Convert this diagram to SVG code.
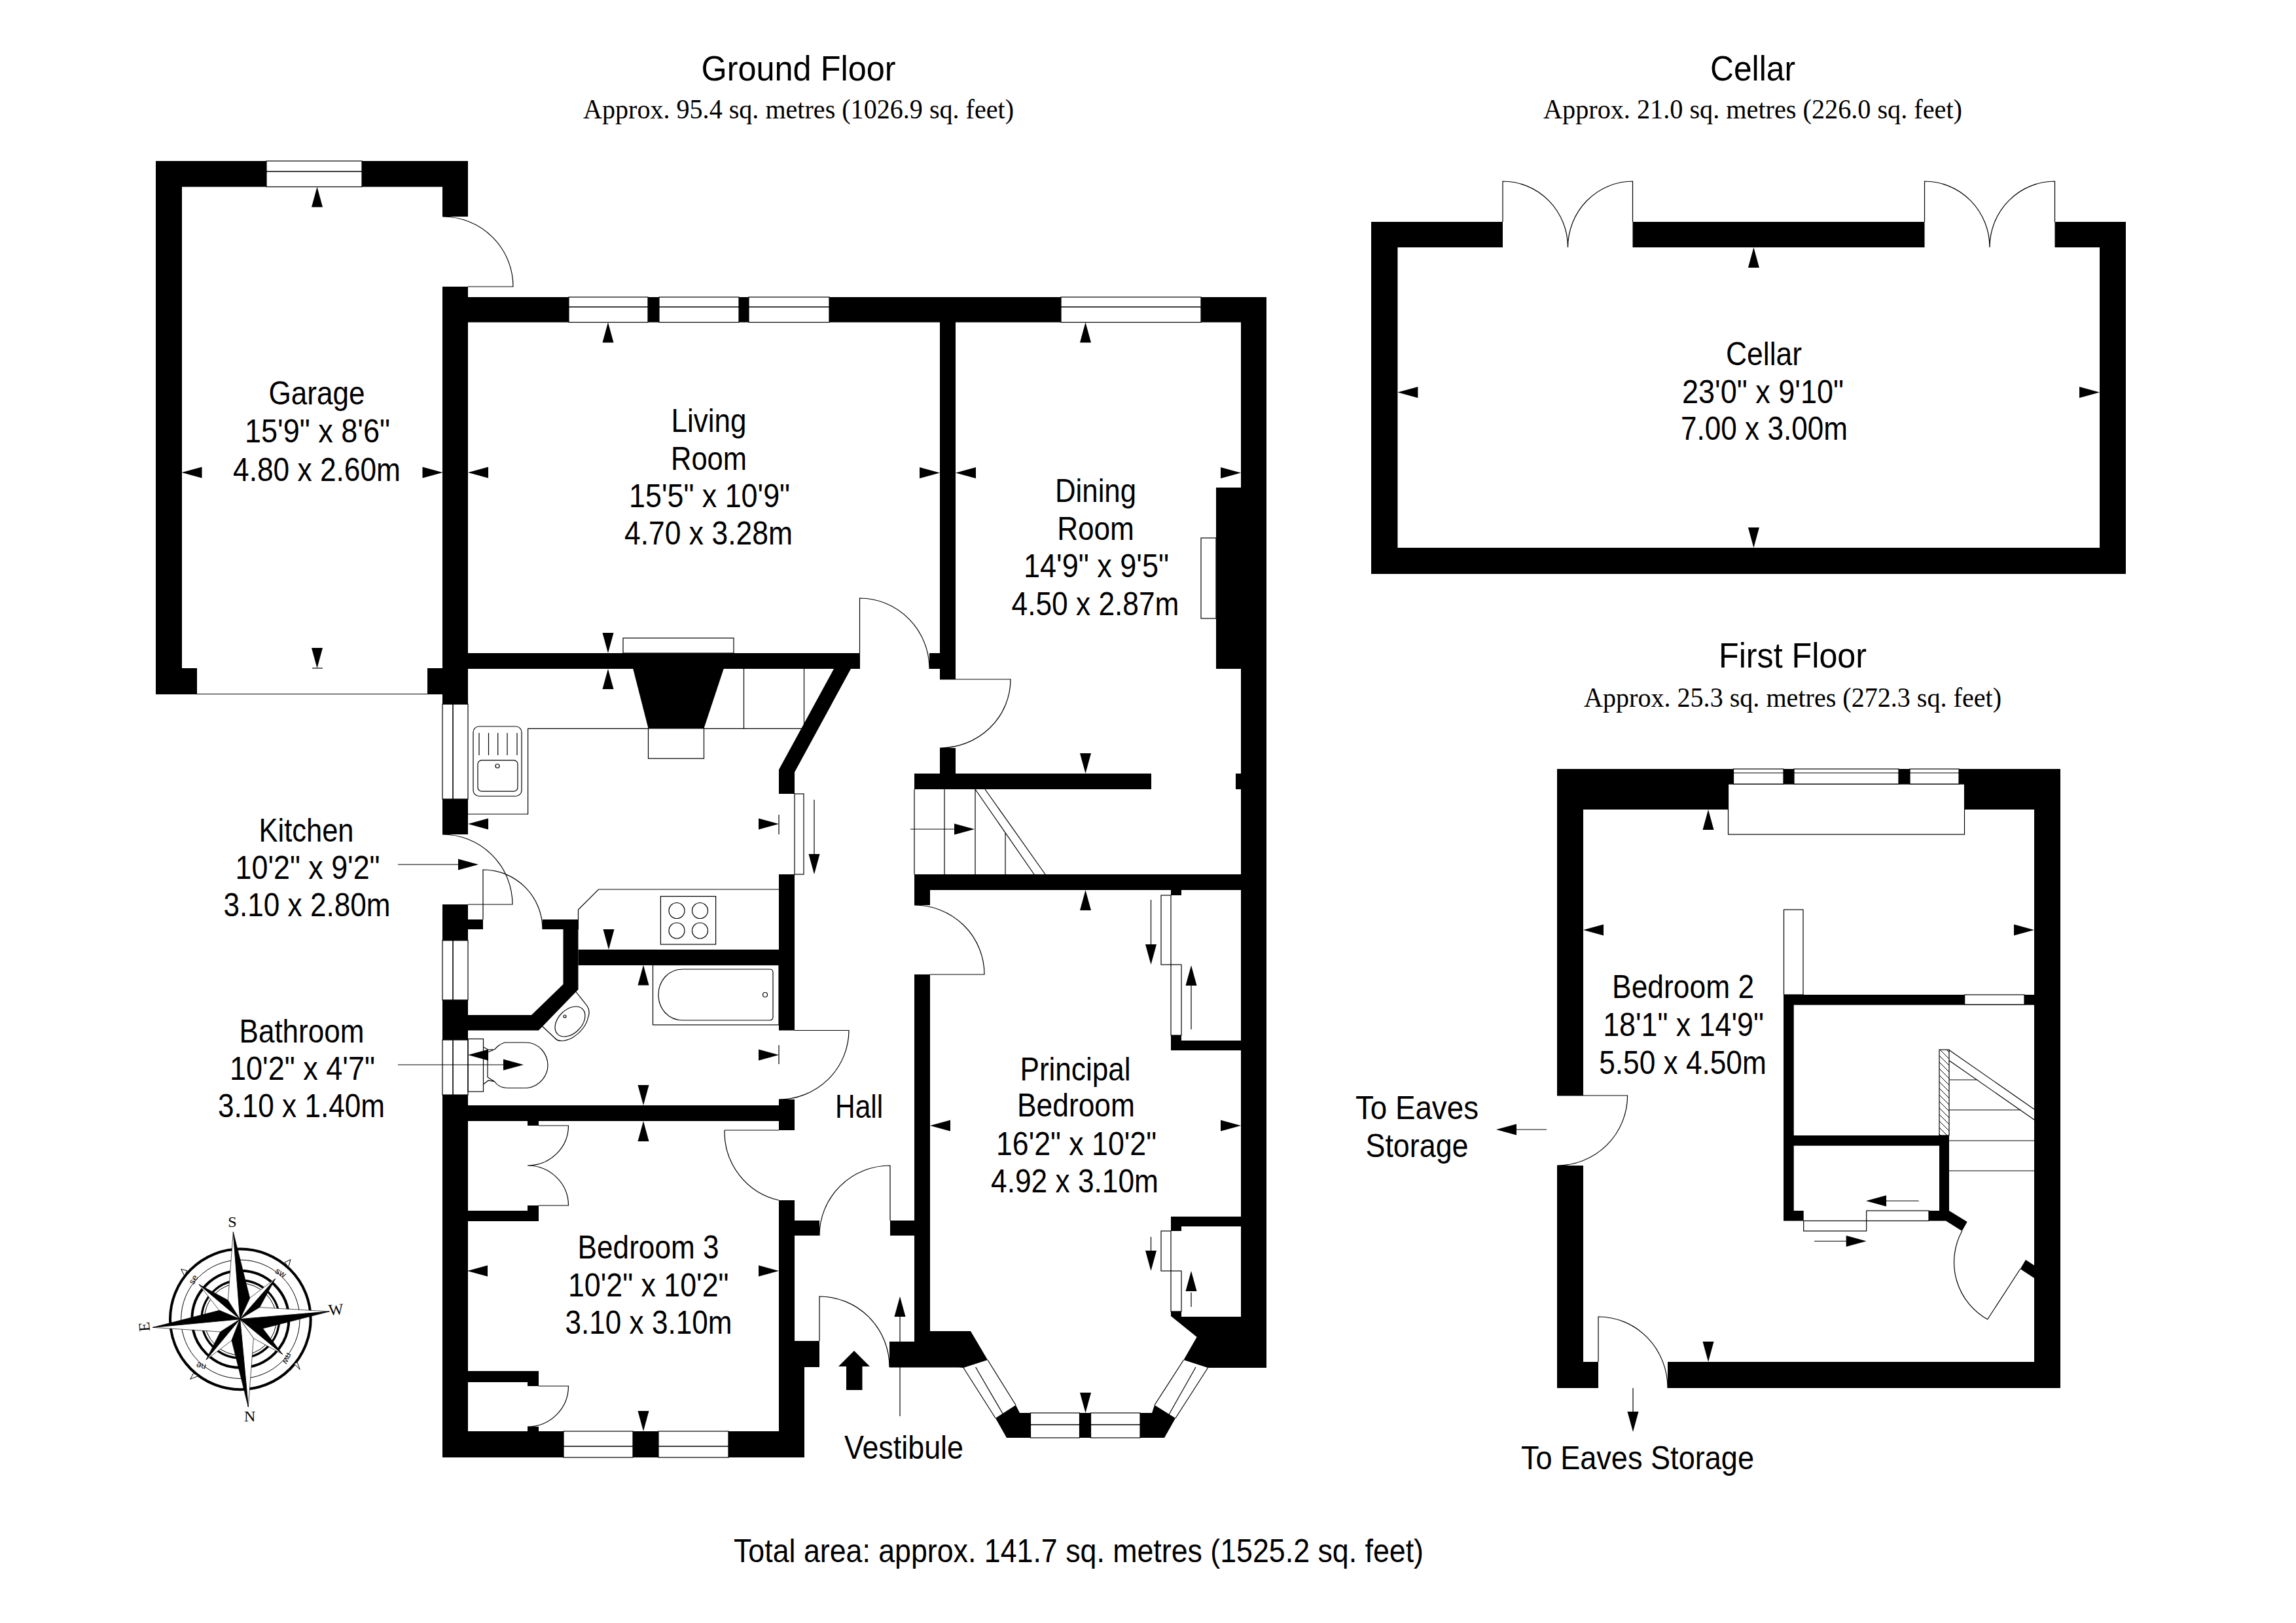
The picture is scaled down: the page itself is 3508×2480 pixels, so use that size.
<svg xmlns="http://www.w3.org/2000/svg" width="3508" height="2480" viewBox="0 0 3508 2480">
<style>
.t{font-family:"Liberation Sans",Arial,sans-serif;font-size:50px;fill:#000;text-anchor:middle}
.h{font-family:"Liberation Sans",Arial,sans-serif;font-size:54px;fill:#000;text-anchor:middle}
.s{font-family:"Liberation Serif","Times New Roman",serif;font-size:42px;fill:#000;text-anchor:middle}
.w{fill:#000;stroke:none}
.l{fill:none;stroke:#000;stroke-width:1.2}
.o{fill:#fff;stroke:#000;stroke-width:1.2}
.m{fill:none;stroke:#000;stroke-width:1.6}
</style>
<defs>
<path id="a" d="M0 0L-31 -8.5L-31 8.5Z" fill="#000"/>
<pattern id="hatch" width="10" height="10" patternUnits="userSpaceOnUse"><path d="M0 0L10 10M-5 5L5 15M5 -5L15 5" stroke="#000" stroke-width="1" fill="none"/></pattern>
</defs>
<rect width="3508" height="2480" fill="#fff"/>

<g id="ground-floor">
<g id="garage">
<rect class="w" x="238" y="246" width="169" height="39.5"/>
<rect class="w" x="553" y="246" width="162" height="39.5"/>
<rect class="w" x="676" y="285" width="39" height="46"/>
<rect class="w" x="238" y="285" width="40" height="776"/>
<rect class="w" x="277" y="1021" width="24" height="40"/>
<rect class="w" x="653" y="1021" width="24" height="40"/>
<rect class="w" x="676" y="438" width="39" height="638"/>
<rect class="o" x="407" y="246" width="146" height="39.5"/>
<path class="m" d="M407 262H553"/>
<path class="l" d="M301 1060.500H653"/>
<path class="l" d="M676.5 331A107.500 107 0 0 1 784 438H715"/>
</g>
<g id="main-walls">
<rect class="w" x="715" y="454" width="154" height="38.500"/>
<rect class="w" x="990" y="454" width="17" height="38.500"/>
<rect class="w" x="1129" y="454" width="15" height="38.500"/>
<rect class="w" x="1267" y="454" width="354" height="38.500"/>
<rect class="w" x="1835" y="454" width="100" height="38.500"/>
<rect class="w" x="1896" y="454" width="39" height="1636"/>
<rect class="o" x="869" y="454" width="121" height="38.500"/>
<rect class="o" x="1007" y="454" width="122" height="38.500"/>
<rect class="o" x="1144" y="454" width="123" height="38.500"/>
<rect class="o" x="1621" y="454" width="214" height="38.500"/>
<path class="m" d="M869 469H990M1007 469H1129M1144 469H1267M1621 469H1835"/>
<rect class="w" x="1436" y="492" width="24" height="546"/>
<rect class="w" x="1420" y="998" width="16" height="24"/>
<rect class="w" x="715" y="998" width="599" height="24"/>
<path class="w" d="M1274 1022H1300L1214 1180V1213H1190V1176Z"/>
<rect class="w" x="1436" y="1143" width="24" height="39"/>
<rect class="w" x="1397" y="1182" width="362" height="24"/>
<rect class="w" x="1888" y="1182" width="8" height="24"/>
<rect class="w" x="1397" y="1336" width="499" height="24"/>
<rect class="w" x="1397" y="1360" width="24" height="23"/>
<rect class="w" x="1397" y="1489" width="24" height="561"/>
<rect class="w" x="1858" y="745" width="38" height="277"/>
<rect class="o" x="1835" y="822" width="23" height="123"/>
<path class="l" d="M1313.500 998V914A107 108 0 0 1 1420 1022"/>
<path class="l" d="M1436 1038H1544A108 105 0 0 1 1436 1143"/>
<path class="l" d="M1421 1489H1504A107 106 0 0 0 1397 1383"/>
</g>
<g id="stairs">
<path class="l" d="M1397 1206V1336M1443 1206V1336M1490 1206V1336M1536 1272V1336M1490 1206L1580 1336M1505 1206L1597 1336"/>
</g>
<g id="kitchen">
<rect class="w" x="676" y="1221" width="39" height="54"/>
<rect class="w" x="676" y="1382" width="39" height="55"/>
<rect class="w" x="715" y="1405" width="23" height="15"/>
<rect class="w" x="829" y="1405" width="55" height="15"/>
<rect class="w" x="883.500" y="1451" width="306.500" height="24"/>
<rect class="w" x="1190" y="1336" width="24" height="238.500"/>
<rect class="o" x="676" y="1076" width="39" height="145"/>
<path class="m" d="M692 1076V1221"/>
<path class="l" d="M676 1275A107 107 0 0 1 783 1382H715"/>
<path class="l" d="M738 1405V1329A91 91 0 0 1 829 1420"/>
<rect class="l" x="1214" y="1213" width="14" height="123"/>
<path class="w" d="M967 1021H1106L1075.500 1113H990.500Z"/>
<rect class="l" x="990.500" y="1113" width="85" height="46"/>
<rect class="l" x="952" y="975" width="169" height="23"/>
<path class="l" d="M1136.500 1022V1113M1228.500 1022V1113M715 1244H806.600V1113.400H990.500M1075.500 1113.400H1226"/>
<rect class="l" x="723" y="1110" width="74" height="106.500" rx="9"/>
<rect class="l" x="730" y="1161.600" width="61" height="47.500" rx="6"/>
<circle class="l" cx="760" cy="1170.500" r="3"/>
<path class="l" d="M732 1120V1154M746.500 1120V1154M760.700 1120V1154M775 1120V1154M790 1120V1154"/>
<path class="l" d="M883.500 1405V1390L914.500 1359H1190"/>
<rect class="l" x="1009.400" y="1369.600" width="84.200" height="73.400"/>
<circle class="l" cx="1034" cy="1391.500" r="12"/>
<circle class="l" cx="1069.500" cy="1391.500" r="12"/>
<circle class="l" cx="1034" cy="1422" r="12"/>
<circle class="l" cx="1069.500" cy="1422" r="12"/>
</g>
<g id="bathroom">
<path class="w" d="M860.500 1420H883.500V1512L823 1574.500H715V1551H812L860.500 1504Z"/>
<rect class="w" x="676" y="1528" width="39" height="61"/>
<rect class="w" x="676" y="1673" width="39" height="554"/>
<rect class="w" x="715" y="1689" width="475" height="24"/>
<rect class="w" x="1190" y="1680" width="24" height="47"/>
<rect class="o" x="676" y="1437" width="39" height="91"/>
<path class="m" d="M692 1437V1528"/>
<rect class="o" x="676" y="1589" width="39" height="84"/>
<path class="m" d="M692 1589V1673"/>
<path class="l" d="M1214 1574.500H1297A107 106 0 0 1 1190 1680"/>
<rect class="l" x="997.500" y="1474.500" width="192.500" height="91.500"/>
<path class="l" d="M1043 1481H1176Q1181 1481 1181 1486V1554Q1181 1559 1176 1559H1043C1020 1559 1006 1540 1006 1520C1006 1500 1020 1481 1043 1481Z"/>
<circle class="l" cx="1169" cy="1520" r="3.500"/>
<path class="l" d="M878 1513L897 1537Q902 1545 899 1553Q895 1573 874 1586Q855 1595 847.500 1586L828.400 1568"/>
<ellipse class="l" cx="871" cy="1561" rx="27" ry="18" transform="rotate(-45 871 1561)"/>
<circle class="l" cx="863" cy="1553" r="2"/>
<rect class="l" x="715" y="1587.500" width="23.500" height="80.500"/>
<path class="l" d="M745 1608V1646L755.700 1652.700Q762 1662.500 777 1662.500H805C826 1660 837 1642 837 1628C837 1612 825 1593 803.500 1593H771Q762 1596 755.700 1603.600L745 1608M738.500 1600L746 1604L755.700 1603.600M738.500 1657L746 1651L755.700 1652.700"/>
</g>
<g id="bedroom3">
<rect class="w" x="1190" y="1834" width="24" height="255"/>
<rect class="w" x="1190" y="2089" width="39" height="138"/>
<rect class="w" x="1214" y="2049" width="38" height="40"/>
<rect class="w" x="1214" y="1865" width="38" height="23"/>
<rect class="w" x="715" y="2187" width="146" height="40"/>
<rect class="w" x="967" y="2187" width="39" height="40"/>
<rect class="w" x="1113" y="2187" width="116" height="40"/>
<rect class="o" x="861" y="2187" width="106" height="40"/>
<rect class="o" x="1006" y="2187" width="107" height="40"/>
<path class="m" d="M861 2210H967M1006 2210H1113"/>
<path class="l" d="M1107 1727H1190M1107 1727A107 107 0 0 0 1190 1834"/>
<rect class="w" x="806" y="1713" width="17" height="7"/>
<path class="l" d="M823 1720H868.500A62.500 61 0 0 1 806 1781A62.500 61 0 0 1 868.500 1842H823"/>
<rect class="w" x="806" y="1842" width="17" height="9"/>
<rect class="w" x="715" y="1850" width="108" height="16"/>
<rect class="w" x="715" y="2095" width="108" height="17"/>
<rect class="w" x="806" y="2111" width="17" height="7"/>
<path class="l" d="M823 2118H868.500A62.500 62 0 0 1 806 2180"/>
<rect class="w" x="806" y="2180" width="17" height="8"/>
</g>
<g id="vestibule">
<path class="l" d="M1252 2049V1981A107 108 0 0 1 1359 2089"/>
<path class="l" d="M1360 1865V1781A108 107 0 0 0 1252 1888"/>
<rect class="w" x="1360" y="1865" width="37" height="23"/>
<path class="w" d="M1305 2064L1329 2088H1317.500V2124H1293V2088H1281Z"/>
</g>
<g id="principal">
<rect class="l" x="1774" y="1368" width="15" height="106"/>
<rect class="l" x="1789" y="1474" width="16" height="108"/>
<rect class="w" x="1789" y="1360" width="16" height="8"/>
<rect class="w" x="1789" y="1582" width="16" height="8"/>
<rect class="w" x="1789" y="1590" width="107" height="15"/>
<rect class="w" x="1789" y="1859" width="107" height="15"/>
<rect class="w" x="1789" y="1874" width="16" height="7"/>
<rect class="l" x="1774" y="1881" width="15" height="61"/>
<rect class="l" x="1789" y="1942" width="16" height="62"/>
<path class="w" d="M1789 2004H1805V2012H1896V2090H1845.500L1808.500 2078L1828.600 2043L1789 2011Z"/>
<path class="w" d="M1397 2034H1483L1509 2078L1472 2090L1465 2089.500H1359V2050H1397Z"/>
<path class="l" d="M1509 2078L1552 2147M1490.600 2089L1532 2160M1472 2090L1521 2167"/>
<path class="l" d="M1808.500 2078L1764 2147M1827 2089L1784 2165M1845.500 2090L1796 2167"/>
<path class="w" d="M1574.500 2159H1558L1552 2147L1521 2167L1538 2197H1574.500Z"/>
<path class="w" d="M1742 2159H1760L1764 2147L1796 2167L1779 2197H1742Z"/>
<rect class="w" x="1649.500" y="2159" width="17" height="38"/>
<rect class="o" x="1574.500" y="2159" width="75" height="38"/>
<rect class="o" x="1666.500" y="2159" width="75.500" height="38"/>
<path class="m" d="M1574.500 2177H1649.500M1666.500 2177H1742"/>
</g>
</g>

<g id="cellar-floor">
<rect class="w" x="2095" y="339" width="201" height="39"/>
<rect class="w" x="2494.500" y="339" width="446" height="39"/>
<rect class="w" x="3139.500" y="339" width="108.500" height="39"/>
<rect class="w" x="2095" y="339" width="40.400" height="538"/>
<rect class="w" x="3208" y="339" width="40" height="538"/>
<rect class="w" x="2095" y="837" width="1153" height="40"/>
<path class="l" d="M2296 339V277A99.500 101 0 0 1 2395.500 378A99.500 101 0 0 1 2494.500 277V339"/>
<path class="l" d="M2940.500 339V277A99.500 101 0 0 1 3040 378A99.500 101 0 0 1 3139.500 277V339"/>
</g>

<g id="first-floor">
<rect class="w" x="2379" y="1175" width="269.500" height="62"/>
<rect class="w" x="2993" y="1175" width="155" height="62"/>
<rect class="w" x="2725" y="1175" width="16" height="23"/>
<rect class="w" x="2901" y="1175" width="17" height="23"/>
<rect class="w" x="2379" y="1237" width="40" height="437"/>
<rect class="w" x="2379" y="1781" width="40" height="340"/>
<rect class="w" x="3108" y="1237" width="40" height="884"/>
<rect class="w" x="2419" y="2081" width="23" height="40"/>
<rect class="w" x="2548" y="2081" width="600" height="40"/>
<rect class="o" x="2640.500" y="1198" width="361" height="77"/>
<rect class="o" x="2648.500" y="1175" width="76.500" height="23"/>
<rect class="o" x="2741" y="1175" width="160" height="23"/>
<rect class="o" x="2918" y="1175" width="75" height="23"/>
<path class="l" d="M2648.500 1181H2725M2741 1181H2901M2918 1181H2993"/>
<path class="l" d="M2379 1674H2486.600A107.600 107 0 0 1 2379 1781"/>
<path class="l" d="M2442 2081V2012A106 109 0 0 1 2548 2121"/>
<rect class="o" x="2725.500" y="1390" width="29.500" height="130"/>
<rect class="w" x="2725" y="1520" width="383" height="15.600"/>
<rect class="o" x="3001.700" y="1520" width="91.300" height="15"/>
<rect class="w" x="2725" y="1535" width="15.700" height="330.500"/>
<rect class="w" x="2740" y="1735" width="238" height="15.700"/>
<rect class="w" x="2963" y="1750" width="15" height="100"/>
<rect x="2963" y="1604" width="15" height="131" fill="url(#hatch)" stroke="#000" stroke-width="1.200"/>
<path class="l" d="M2978 1604.500L3108 1695M2978 1620.500L3108 1711M2978 1650H3021.700M2978 1696H3087.700M2978 1743H3108M2978 1789H3108"/>
<rect class="w" x="2740" y="1850" width="15.700" height="15.500"/>
<rect class="l" x="2755.700" y="1865.500" width="96" height="15.500"/>
<rect class="l" x="2851.700" y="1850" width="95.300" height="15.500"/>
<path class="w" d="M2947 1850H2978L3005.700 1867L2997.700 1881L2973 1865.500H2947Z"/>
<path class="l" d="M2997.700 1881A100 100 0 0 0 3036.700 2016L3086.700 1939"/>
<path class="w" d="M3086.700 1939L3095 1925L3108 1933.600V1953Z"/>
</g>

<g id="connectors">
<use href="#a" transform="translate(484.500 285.500) rotate(-90)"/>
<use href="#a" transform="translate(484.500 1021) rotate(90)"/>
<path class="l" d="M477 1021H493"/>
<use href="#a" transform="translate(277.500 722) rotate(180)"/>
<use href="#a" transform="translate(676.500 722)"/>
<use href="#a" transform="translate(715 722) rotate(180)"/>
<use href="#a" transform="translate(1436 722.500)"/>
<use href="#a" transform="translate(1460 722.500) rotate(180)"/>
<use href="#a" transform="translate(1896 722.500)"/>
<use href="#a" transform="translate(929 492.500) rotate(-90)"/>
<use href="#a" transform="translate(929 998) rotate(90)"/>
<use href="#a" transform="translate(929 1022) rotate(-90)"/>
<use href="#a" transform="translate(1658.500 492.500) rotate(-90)"/>
<use href="#a" transform="translate(1658.500 1182) rotate(90)"/>
<use href="#a" transform="translate(1658.500 1360) rotate(-90)"/>
<use href="#a" transform="translate(1658.500 2159) rotate(90)"/>
<use href="#a" transform="translate(1421 1720) rotate(180)"/>
<use href="#a" transform="translate(1896 1720)"/>
<use href="#a" transform="translate(715 1259) rotate(180)"/>
<use href="#a" transform="translate(1190 1259)"/>
<path class="l" d="M1190 1245V1275M1190 1597V1626"/>
<use href="#a" transform="translate(930 1451) rotate(90)"/>
<use href="#a" transform="translate(983 1474.500) rotate(-90)"/>
<use href="#a" transform="translate(983 1689) rotate(90)"/>
<use href="#a" transform="translate(983 1713) rotate(-90)"/>
<use href="#a" transform="translate(715 1612) rotate(180)"/>
<use href="#a" transform="translate(1190 1612)"/>
<use href="#a" transform="translate(714 1942) rotate(180)"/>
<use href="#a" transform="translate(1190 1942)"/>
<use href="#a" transform="translate(983 2187) rotate(90)"/>
<path class="l" d="M608 1321H700"/>
<use href="#a" transform="translate(731 1321)"/>
<path class="l" d="M608 1627H770"/>
<use href="#a" transform="translate(800 1627)"/>
<path class="l" d="M1244 1222V1306"/>
<use href="#a" transform="translate(1244 1336) rotate(90)"/>
<path class="l" d="M1375 2164V2010"/>
<use href="#a" transform="translate(1375 1981) rotate(-90)"/>
<path class="l" d="M1391 1267H1460"/>
<use href="#a" transform="translate(1489 1267)"/>
<path class="l" d="M1758.500 1375V1445"/>
<use href="#a" transform="translate(1758.500 1474) rotate(90)"/>
<path class="l" d="M1820 1573V1506"/>
<use href="#a" transform="translate(1820 1475) rotate(-90)"/>
<path class="l" d="M1758.500 1890V1912"/>
<use href="#a" transform="translate(1758.500 1942) rotate(90)"/>
<path class="l" d="M1820 1997V1975"/>
<use href="#a" transform="translate(1820 1942) rotate(-90)"/>
<use href="#a" transform="translate(2679.400 378) rotate(-90)"/>
<use href="#a" transform="translate(2679.400 837) rotate(90)"/>
<use href="#a" transform="translate(2135.400 599.500) rotate(180)"/>
<use href="#a" transform="translate(3208 599.500)"/>
<use href="#a" transform="translate(2610 1237) rotate(-90)"/>
<use href="#a" transform="translate(2610 2081) rotate(90)"/>
<use href="#a" transform="translate(2419 1421) rotate(180)"/>
<use href="#a" transform="translate(3108 1421)"/>
<path class="l" d="M2363 1726H2317"/>
<use href="#a" transform="translate(2286 1726) rotate(180)"/>
<path class="l" d="M2495 2121V2158"/>
<use href="#a" transform="translate(2495 2188) rotate(90)"/>
<path class="l" d="M2931.700 1835H2882"/>
<use href="#a" transform="translate(2851 1835) rotate(180)"/>
<path class="l" d="M2772 1896.500H2821"/>
<use href="#a" transform="translate(2851.700 1896.500)"/>
</g>

<g id="compass" transform="translate(180 1850) scale(.33333)">
<g fill="none" stroke="#000">
<circle cx="562" cy="497.500" r="322" stroke-width="12"/>
<circle cx="562" cy="497.500" r="272" stroke-width="3"/>
<circle cx="562" cy="497.500" r="222" stroke-width="12"/>
<circle cx="562" cy="497.500" r="178" stroke-width="10"/>
<circle cx="562" cy="497.500" r="165" stroke-width="3"/>
<path fill="#fff" stroke-width="3" d="M792 224L765 237L782 258ZM290 268L318 275L305 298ZM835 728L808 702L822 695ZM332 772L347 745L368 758Z"/>
</g>
<g stroke="#000" stroke-width="2">
<path fill="#fff" d="M372 338L465 457L560 497Z"/>
<path fill="#000" d="M372 338L505 410L560 497Z"/>
<path fill="#fff" d="M722 312L605 400L560 497Z"/>
<path fill="#000" d="M722 312L650 443L560 497Z"/>
<path fill="#fff" d="M755 658L622 585L560 497Z"/>
<path fill="#000" d="M755 658L665 540L560 497Z"/>
<path fill="#fff" d="M405 683L522 595L560 497Z"/>
<path fill="#000" d="M405 683L470 555L560 497Z"/>
<path fill="#fff" d="M529 97L505 410L560 497Z"/>
<path fill="#000" d="M529 97L605 400L560 497Z"/>
<path fill="#fff" d="M970 462L650 443L560 497Z"/>
<path fill="#000" d="M970 462L665 540L560 497Z"/>
<path fill="#fff" d="M598 900L622 585L560 497Z"/>
<path fill="#000" d="M598 900L522 595L560 497Z"/>
<path fill="#fff" d="M160 535L470 555L560 497Z"/>
<path fill="#000" d="M160 535L465 457L560 497Z"/>
</g>
<g font-family="Liberation Serif,serif" font-size="72" text-anchor="middle" fill="#000">
<text x="525" y="75">S</text>
<text x="605" y="965">N</text>
<text transform="translate(145 530) rotate(-95)">E</text>
<text transform="translate(1000 455) rotate(-5)" y="22">W</text>
</g>
<g font-family="Liberation Sans,sans-serif" font-size="40" text-anchor="middle" fill="#000">
<text transform="translate(358 322) rotate(-60)">se</text>
<text transform="translate(740 296) rotate(30)">sw</text>
<text transform="translate(385 700) rotate(195)">ne</text>
<text transform="translate(765 672) rotate(115)">nw</text>
</g>
</g>

<g id="titles">
<text class="h" x="1220" y="123" textLength="297" lengthAdjust="spacingAndGlyphs">Ground Floor</text>
<text class="s" x="1220" y="181" textLength="658" lengthAdjust="spacingAndGlyphs">Approx. 95.4 sq. metres (1026.9 sq. feet)</text>
<text class="h" x="2678" y="123" textLength="130" lengthAdjust="spacingAndGlyphs">Cellar</text>
<text class="s" x="2678" y="181" textLength="640" lengthAdjust="spacingAndGlyphs">Approx. 21.0 sq. metres (226.0 sq. feet)</text>
<text class="h" x="2739" y="1020" textLength="226" lengthAdjust="spacingAndGlyphs">First Floor</text>
<text class="s" x="2739" y="1080" textLength="638" lengthAdjust="spacingAndGlyphs">Approx. 25.3 sq. metres (272.3 sq. feet)</text>
<text class="t" x="1648" y="2387" textLength="1054" lengthAdjust="spacingAndGlyphs">Total area: approx. 141.7 sq. metres (1525.2 sq. feet)</text>
</g>
<g id="labels" transform="translate(0 1)">
<text class="t" x="484" y="617" textLength="147" lengthAdjust="spacingAndGlyphs">Garage</text>
<text class="t" x="485" y="675" textLength="222" lengthAdjust="spacingAndGlyphs">15'9" x 8'6"</text>
<text class="t" x="484" y="734" textLength="256" lengthAdjust="spacingAndGlyphs">4.80 x 2.60m</text>
<text class="t" x="1083" y="659" textLength="115" lengthAdjust="spacingAndGlyphs">Living</text>
<text class="t" x="1083" y="716.600" textLength="116" lengthAdjust="spacingAndGlyphs">Room</text>
<text class="t" x="1084" y="774" textLength="246" lengthAdjust="spacingAndGlyphs">15'5" x 10'9"</text>
<text class="t" x="1082.500" y="831" textLength="257" lengthAdjust="spacingAndGlyphs">4.70 x 3.28m</text>
<text class="t" x="1674" y="765.600" textLength="124" lengthAdjust="spacingAndGlyphs">Dining</text>
<text class="t" x="1674" y="823.600" textLength="117.700" lengthAdjust="spacingAndGlyphs">Room</text>
<text class="t" x="1675" y="881" textLength="222" lengthAdjust="spacingAndGlyphs">14'9" x 9'5"</text>
<text class="t" x="1673.500" y="939" textLength="256" lengthAdjust="spacingAndGlyphs">4.50 x 2.87m</text>
<text class="t" x="468" y="1284.700" textLength="145" lengthAdjust="spacingAndGlyphs">Kitchen</text>
<text class="t" x="470" y="1342" textLength="221" lengthAdjust="spacingAndGlyphs">10'2" x 9'2"</text>
<text class="t" x="469" y="1399" textLength="255" lengthAdjust="spacingAndGlyphs">3.10 x 2.80m</text>
<text class="t" x="461" y="1592" textLength="191" lengthAdjust="spacingAndGlyphs">Bathroom</text>
<text class="t" x="462" y="1649" textLength="222" lengthAdjust="spacingAndGlyphs">10'2" x 4'7"</text>
<text class="t" x="460.500" y="1706" textLength="255" lengthAdjust="spacingAndGlyphs">3.10 x 1.40m</text>
<text class="t" x="1312.600" y="1707" textLength="73" lengthAdjust="spacingAndGlyphs">Hall</text>
<text class="t" x="990.600" y="1922" textLength="216" lengthAdjust="spacingAndGlyphs">Bedroom 3</text>
<text class="t" x="990.700" y="1979.500" textLength="245.500" lengthAdjust="spacingAndGlyphs">10'2" x 10'2"</text>
<text class="t" x="991" y="2036.600" textLength="255" lengthAdjust="spacingAndGlyphs">3.10 x 3.10m</text>
<text class="t" x="1381" y="2228.300" textLength="182" lengthAdjust="spacingAndGlyphs">Vestibule</text>
<text class="t" x="1643" y="1650" textLength="169" lengthAdjust="spacingAndGlyphs">Principal</text>
<text class="t" x="1644" y="1705" textLength="180" lengthAdjust="spacingAndGlyphs">Bedroom</text>
<text class="t" x="1644.500" y="1764" textLength="245" lengthAdjust="spacingAndGlyphs">16'2" x 10'2"</text>
<text class="t" x="1642" y="1821" textLength="256" lengthAdjust="spacingAndGlyphs">4.92 x 3.10m</text>
<text class="t" x="2695" y="557" textLength="116" lengthAdjust="spacingAndGlyphs">Cellar</text>
<text class="t" x="2693.500" y="614.600" textLength="247" lengthAdjust="spacingAndGlyphs">23'0" x 9'10"</text>
<text class="t" x="2695.500" y="671" textLength="255" lengthAdjust="spacingAndGlyphs">7.00 x 3.00m</text>
<text class="t" x="2571.600" y="1524" textLength="217" lengthAdjust="spacingAndGlyphs">Bedroom 2</text>
<text class="t" x="2572" y="1582" textLength="245.600" lengthAdjust="spacingAndGlyphs">18'1" x 14'9"</text>
<text class="t" x="2571" y="1639.600" textLength="255.500" lengthAdjust="spacingAndGlyphs">5.50 x 4.50m</text>
<text class="t" x="2165" y="1709" textLength="188" lengthAdjust="spacingAndGlyphs">To Eaves</text>
<text class="t" x="2165" y="1767" textLength="157" lengthAdjust="spacingAndGlyphs">Storage</text>
<text class="t" x="2502" y="2244" textLength="356" lengthAdjust="spacingAndGlyphs">To Eaves Storage</text>
</g>
</svg>
